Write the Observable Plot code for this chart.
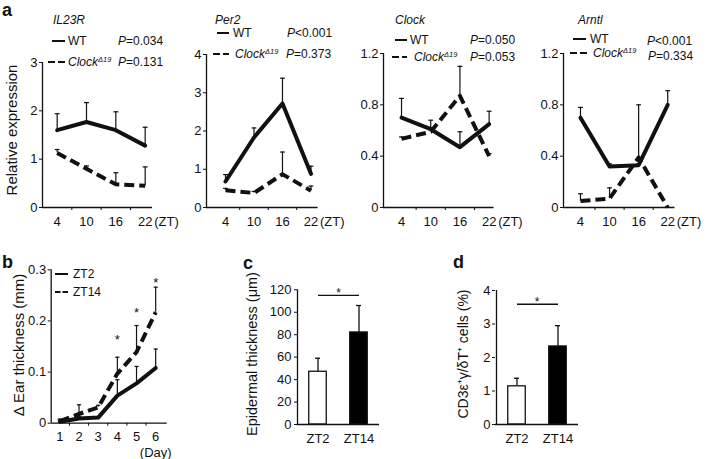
<!DOCTYPE html>
<html><head><meta charset="utf-8">
<script src="https://cdn.jsdelivr.net/npm/d3@7"></script>
<script src="https://cdn.jsdelivr.net/npm/@observablehq/plot@0.6"></script>
<style>
html,body{margin:0;padding:0;background:#fff;}
#chart{position:relative;width:709px;height:459px;overflow:hidden;background:#fff;font-family:"Liberation Sans",Arial,sans-serif;}
#chart svg{position:absolute;left:0;top:0;}
</style></head><body><div id="chart"></div>
<script>
const W = 709, H = 459;
const FONT = "'Liberation Sans', Arial, Helvetica, sans-serif";

// ---- panel a data ----
const zt = [4, 10, 16, 22];
const ztMinor = [7, 13, 19];
const il23rWT = [1.6, 1.77, 1.6, 1.28];
const il23rWTErr = [1.94, 2.17, 1.98, 1.66];
const il23rMut = [1.13, 0.8, 0.48, 0.45];
const il23rMutErr = [1.2, 0.86, 0.72, 0.84];
const per2WT = [0.68, 1.83, 2.72, 0.88];
const per2WTErr = [0.86, 2.08, 3.38, 1.08];
const per2Mut = [0.45, 0.38, 0.87, 0.44];
const per2MutErr = [0.5, 0.42, 1.45, 0.56];
const clockWT = [0.70, 0.61, 0.47, 0.65];
const clockWTErr = [0.85, 0.68, 0.59, 0.75];
const clockMut = [0.535, 0.59, 0.87, 0.40];
const clockMutErr = [0.55, 0.62, 1.10, 0.42];
const arntlWT = [0.70, 0.32, 0.33, 0.80];
const arntlWTErr = [0.78, 0.34, 0.34, 0.91];
const arntlMut = [0.05, 0.07, 0.39, 0.0];
const arntlMutErr = [0.107, 0.153, 0.80, 0.0];
const genes = ["IL23R", "Per2", "Clock", "Arntl"];
const pWT = ["P=0.034", "P<0.001", "P=0.050", "P<0.001"];
const pMut = ["P=0.131", "P=0.373", "P=0.053", "P=0.334"];
const ticksIL23R = [0, 1, 2, 3];
const ticksPer2 = [0, 1, 2, 3, 4];
const ticksClock = [0, 0.4, 0.8, 1.2];
const ticksArntl = [0, 0.4, 0.8, 1.2];

// ---- panel b data ----
const days = [1, 2, 3, 4, 5, 6];
const daysMinor = [1.5, 2.5, 3.5, 4.5, 5.5];
const earZT2 = [0.003, 0.009, 0.011, 0.054, 0.078, 0.108];
const earZT2Err = [0.006, 0.013, 0.013, 0.085, 0.111, 0.145];
const earZT14 = [0.004, 0.018, 0.031, 0.097, 0.139, 0.217];
const earZT14Err = [0.008, 0.036, 0.035, 0.129, 0.191, 0.266];
const earStarDays = [4, 5, 6];
const earStarY = [0.168, 0.221, 0.281];
const ticksEar = [0, 0.1, 0.2, 0.3];

// ---- panels c, d data ----
const groups = ["ZT2", "ZT14"];
const barFills = ["white", "black"];
const epi = [47, 82];
const epiErr = [59, 106];
const epiSig = 115;
const ticksEpi = [0, 20, 40, 60, 80, 100, 120];
const cd3 = [1.14, 2.33];
const cd3Err = [1.38, 2.95];
const cd3Sig = 3.59;
const ticksCd3 = [0, 1, 2, 3, 4];

const chart = document.getElementById("chart");
const baseStyle = {fontFamily: FONT, fontSize: "13px", color: "#111", background: "transparent", overflow: "visible"};

function rows(xs, vals, errs) {
  return xs.map((x, i) => ({x, v: vals[i], e: errs[i]}));
}

function linePanel(cfg, wt, wtErr, mut, mutErr) {
  const dWT = rows(cfg.xs, wt, wtErr), dMut = rows(cfg.xs, mut, mutErr);
  const errs = dWT.concat(dMut).filter(d => d.e > d.v);
  const marks = [
    Plot.ruleY([cfg.yDomain[0]], {stroke: "#111", strokeWidth: 1.3}),
    Plot.ruleX([cfg.xDomain[0]], {stroke: "#111", strokeWidth: 1.3}),
    Plot.axisY({ticks: cfg.yTicks, tickSize: 3, tickPadding: 2, tickFormat: d => String(d), label: null}),
    Plot.axisX({ticks: cfg.minor, tickSize: 3, tickFormat: () => "", label: null}),
    Plot.axisX({ticks: cfg.xs, tickSize: 0, tickPadding: 9, tickFormat: d => String(d), label: null}),
    Plot.ruleX(errs, {x: "x", y1: "v", y2: "e", stroke: "#111", strokeWidth: 1.2}),
    Plot.link(errs, {x1: d => d.x - cfg.cap, x2: d => d.x + cfg.cap, y1: "e", y2: "e", stroke: "#111", strokeWidth: 1.2}),
    Plot.line(dWT, {x: "x", y: "v", stroke: "#111", strokeWidth: 4}),
    Plot.line(dMut, {x: "x", y: "v", stroke: "#111", strokeWidth: 4, strokeDasharray: cfg.dash, strokeLinecap: "butt"}),
    Plot.text([{x: cfg.unitAt, t: cfg.unit}], {x: "x", text: "t", frameAnchor: "bottom", dx: cfg.unitDx, dy: cfg.unitDy, textAnchor: cfg.unitAnchor, lineAnchor: "middle", fill: "#111"})
  ];
  if (cfg.stars) marks.push(Plot.text(cfg.stars, {x: "x", y: "y", text: () => "*", fontSize: 13, lineAnchor: "middle", dy: 3, fill: "#111"}));
  return Plot.plot({
    width: W, height: H,
    marginLeft: cfg.left, marginRight: W - cfg.right, marginTop: cfg.top, marginBottom: H - cfg.bottom,
    x: {type: "linear", domain: cfg.xDomain},
    y: {type: "linear", domain: cfg.yDomain},
    style: baseStyle,
    marks
  });
}

function barPanel(cfg, vals, errs, sig) {
  const d = groups.map((g, i) => ({g, v: vals[i], e: errs[i], f: barFills[i]}));
  return Plot.plot({
    width: W, height: H,
    marginLeft: cfg.left, marginRight: W - cfg.right, marginTop: cfg.top, marginBottom: H - cfg.bottom,
    x: {type: "band", domain: groups, padding: 0},
    y: {type: "linear", domain: cfg.yDomain},
    style: baseStyle,
    marks: [
      Plot.ruleX(d, {x: "g", y1: "v", y2: "e", stroke: "#111", strokeWidth: 1.3}),
      Plot.tickY(d, {x: "g", y: "e", insetLeft: 18, insetRight: 18, stroke: "#111", strokeWidth: 1.3}),
      Plot.barY(d, {x: "g", y: "v", fill: "f", stroke: "#111", strokeWidth: 1.3, insetLeft: 11.75, insetRight: 11.75}),
      Plot.ruleY([cfg.yDomain[0]], {stroke: "#111", strokeWidth: 1.3}),
      Plot.ruleX([groups[0]], {stroke: "#111", strokeWidth: 1.3, dx: -20.5}),
      Plot.axisY({ticks: cfg.yTicks, tickSize: 3, tickPadding: cfg.pad, tickFormat: t => String(t), label: null}),
      Plot.axisX({tickSize: 0, tickPadding: 9, label: null}),
      Plot.link([{a: groups[0], b: groups[1], y: sig}], {x1: "a", x2: "b", y1: "y", y2: "y", stroke: "#111", strokeWidth: 1.3}),
      Plot.text([{y: sig}], {y: "y", frameAnchor: "top", text: () => "*", fontSize: 12, lineAnchor: "bottom", dy: 2, fill: "#111"})
    ]
  });
}

const panelsA = [
  {gene: 0, left: 42, right: 152, top: 62, xDomain: [1, 23.5], yDomain: [0, 3], yTicks: ticksIL23R, data: [il23rWT, il23rWTErr, il23rMut, il23rMutErr]},
  {gene: 1, left: 206, right: 317.6, top: 54, xDomain: [0, 23.5], yDomain: [0, 4], yTicks: ticksPer2, data: [per2WT, per2WTErr, per2Mut, per2MutErr]},
  {gene: 2, left: 383, right: 493.5, top: 53, xDomain: [0.3, 23], yDomain: [0, 1.2], yTicks: ticksClock, data: [clockWT, clockWTErr, clockMut, clockMutErr]},
  {gene: 3, left: 563, right: 674.5, top: 53, xDomain: [0.5, 23.5], yDomain: [0, 1.2], yTicks: ticksArntl, data: [arntlWT, arntlWTErr, arntlMut, arntlMutErr]}
];
for (const p of panelsA) {
  const cfg = Object.assign({xs: zt, minor: ztMinor, bottom: 207, cap: 0.5, dash: "10,5",
    unit: "(ZT)", unitAt: zt[zt.length - 1], unitDx: 9, unitDy: 14, unitAnchor: "start"}, p);
  chart.appendChild(linePanel(cfg, ...p.data));
}

chart.appendChild(linePanel({
  xs: days, minor: daysMinor, left: 50.7, right: 166.7, top: 269.3, bottom: 422.7,
  xDomain: [0.55, 6.6], yDomain: [0, 0.3], yTicks: ticksEar, cap: 0.11, dash: "10,5",
  unit: "(Day)", unitAt: days[days.length - 1], unitDx: 0, unitDy: 30, unitAnchor: "middle",
  stars: earStarDays.map((x, i) => ({x, y: earStarY[i]}))
}, earZT2, earZT2Err, earZT14, earZT14Err));

chart.appendChild(barPanel({left: 297, right: 379, top: 289.3, bottom: 424, yDomain: [0, 120], yTicks: ticksEpi, pad: 3}, epi, epiErr, epiSig));
chart.appendChild(barPanel({left: 495, right: 578, top: 290, bottom: 424, yDomain: [0, 4], yTicks: ticksCd3, pad: 2}, cd3, cd3Err, cd3Sig));

// ---- annotation layer: titles, legends, panel letters, axis titles ----
const svg = d3.select(chart).append("svg").attr("width", W).attr("height", H)
  .style("font-family", FONT).style("overflow", "visible");
const ink = "#111";
function txt(x, yc, parts, size, opts = {}) {
  const t = svg.append("text").attr("x", x).attr("y", yc + size * 0.36).attr("font-size", size).attr("fill", ink);
  if (opts.weight) t.attr("font-weight", opts.weight);
  if (opts.anchor) t.attr("text-anchor", opts.anchor);
  for (const p of parts) {
    const s = t.append("tspan").text(p.t);
    if (p.i) s.attr("font-style", "italic");
    if (p.sup) s.attr("font-size", size * 0.62).attr("baseline-shift", "super");
  }
  return t;
}
function pval(str) { return [{t: str[0], i: true}, {t: str.slice(1)}]; }
function sample(x1, x2, y, dash) {
  const l = svg.append("line").attr("x1", x1).attr("x2", x2).attr("y1", y).attr("y2", y)
    .attr("stroke", ink).attr("stroke-width", 2);
  if (dash) l.attr("stroke-dasharray", dash);
}
const legA = [
  {title: 53, r1: 41, r2: 62, s1: [52, 65], s2: [48, 65], t1: 68, t2: 68, p1: [118, 41], p2: [118, 62]},
  {title: 215, r1: 33, r2: 54, s1: [217, 229], s2: [213, 229], t1: 233, t2: 235, p1: [287, 33], p2: [286, 54]},
  {title: 395, r1: 40, r2: 57, s1: [395, 407], s2: [392, 407], t1: 410, t2: 414, p1: [470, 40], p2: [470, 57]},
  {title: 578, r1: 39, r2: 53, s1: [573, 586], s2: [570, 587], t1: 590, t2: 593, p1: [647, 41], p2: [648, 56]}
];
legA.forEach((L, i) => {
  txt(L.title, 20, [{t: genes[i], i: true}], 12);
  sample(L.s1[0], L.s1[1], L.r1);
  sample(L.s2[0], L.s2[1], L.r2, "7,3");
  txt(L.t1, L.r1, [{t: "WT"}], 12);
  txt(L.t2, L.r2, [{t: "Clock", i: true}, {t: "Δ19", sup: true, i: true}], 12);
  txt(L.p1[0], L.p1[1], pval(pWT[i]), 12);
  txt(L.p2[0], L.p2[1], pval(pMut[i]), 12);
});
// panel b legend
sample(55, 68, 274);
sample(55, 68, 292, "5.5,2");
txt(73, 274, [{t: groups[0]}], 12);
txt(73, 292, [{t: groups[1]}], 12);

// panel letters
txt(2, 9.5, [{t: "a"}], 18, {weight: "bold"});
txt(2, 262, [{t: "b"}], 18, {weight: "bold"});
txt(243, 263, [{t: "c"}], 18, {weight: "bold"});
txt(453, 262, [{t: "d"}], 18, {weight: "bold"});

// rotated axis titles
function vtitle(cx, cy, str, size) {
  svg.append("text").attr("transform", `translate(${cx},${cy}) rotate(-90)`)
    .attr("text-anchor", "middle").attr("dy", "0.35em").attr("font-size", size).attr("fill", ink).text(str);
}
vtitle(12, 130, "Relative expression", 15);
vtitle(18.5, 345, "Δ Ear thickness (mm)", 15);
vtitle(251.5, 354, "Epidermal thickness (μm)", 14.5);
vtitle(463.5, 354, "CD3ε⁺γ/δT⁺ cells (%)", 14);
</script></body></html>
